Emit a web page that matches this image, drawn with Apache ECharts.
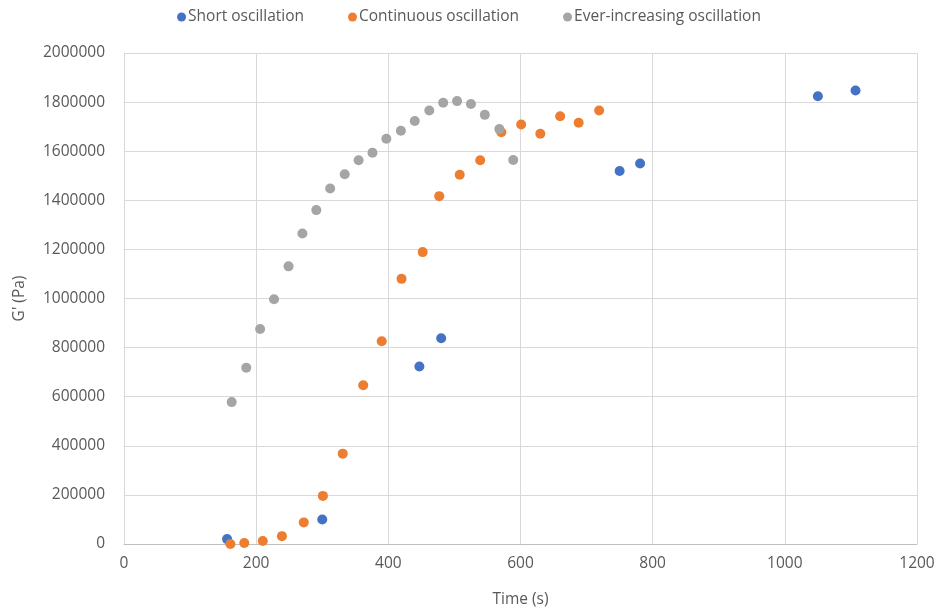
<!DOCTYPE html>
<html>
<head>
<meta charset="utf-8">
<script src="https://cdn.jsdelivr.net/npm/echarts@6/dist/echarts.min.js"></script>
<style>
  html, body { margin: 0; padding: 0; background: #fff; }
  #chart { width: 938px; height: 613px; }
</style>
</head>
<body>
<div id="chart"></div>
<script>
// Storage modulus G' over time for three oscillation modes
const seriesNames = ['Short oscillation', 'Continuous oscillation', 'Ever-increasing oscillation'];

const shortTime = [156, 300, 447, 480, 750, 781, 1050, 1107];
const shortG = [20000, 100000, 723000, 838000, 1519000, 1550000, 1824000, 1847000];

const contTime = [161, 182, 210, 239, 272, 301, 331, 362, 390, 420, 452, 477, 508, 539, 571, 601, 630, 660, 688, 719];
const contG = [0, 4000, 12000, 32000, 88000, 196000, 368000, 647000, 826000, 1080000, 1189000, 1417000, 1504000, 1563000, 1677000, 1709000, 1671000, 1742000, 1716000, 1766000];

const everTime = [163, 185, 206, 227, 249, 270, 291, 312, 334, 355, 376, 397, 419, 440, 462, 483, 504, 525, 546, 568, 589];
const everG = [578000, 718000, 876000, 997000, 1131000, 1265000, 1360000, 1448000, 1506000, 1563000, 1594000, 1651000, 1683000, 1723000, 1766000, 1797000, 1804000, 1792000, 1748000, 1690000, 1564000];

const colors = ['#4472C4', '#ED7D31', '#A5A5A5'];
const font = '"Open Sans", sans-serif';
const textColor = '#595959';

function pairs(xs, ys) {
  return xs.map((x, i) => [x, ys[i]]);
}

// plain integers, no thousands separators
const plain = v => String(v);

const chart = echarts.init(document.getElementById('chart'), null, { renderer: 'canvas' });

const marker = { opacity: 1 };

chart.setOption({
  animation: false,
  backgroundColor: '#ffffff',
  color: colors,
  textStyle: { fontFamily: font },
  legend: {
    top: 4,
    left: 'center',
    itemWidth: 9,
    itemHeight: 9,
    itemGap: 44,
    icon: 'circle',
    textStyle: { color: textColor, fontSize: 15.5, fontFamily: font, padding: [0, 0, 0, -3] },
    data: seriesNames
  },
  grid: { left: 124, right: 21, top: 53, bottom: 68, containLabel: false },
  xAxis: {
    type: 'value',
    min: 0,
    max: 1200,
    interval: 200,
    name: 'Time (s)',
    nameLocation: 'middle',
    nameGap: 48,
    nameTextStyle: { color: textColor, fontSize: 15.5, fontFamily: font },
    axisLine: { show: true, lineStyle: { color: '#BFBFBF', width: 1 } },
    axisTick: { show: false },
    axisLabel: { color: textColor, fontSize: 15.5, margin: 12, fontFamily: font, formatter: plain },
    splitLine: { show: true, lineStyle: { color: '#D9D9D9', width: 1 } }
  },
  yAxis: {
    type: 'value',
    min: 0,
    max: 2000000,
    interval: 200000,
    name: "G' (Pa)",
    nameLocation: 'middle',
    nameGap: 96,
    nameRotate: 90,
    nameTextStyle: { color: textColor, fontSize: 15.5, fontFamily: font },
    axisLine: { show: false },
    axisTick: { show: false },
    axisLabel: { color: textColor, fontSize: 15.5, margin: 19, fontFamily: font, formatter: plain },
    splitLine: { show: true, lineStyle: { color: '#D9D9D9', width: 1 } }
  },
  series: [
    { name: seriesNames[0], type: 'scatter', symbolSize: 10, itemStyle: marker, data: pairs(shortTime, shortG), z: 3 },
    { name: seriesNames[1], type: 'scatter', symbolSize: 10, itemStyle: marker, data: pairs(contTime, contG), z: 4 },
    { name: seriesNames[2], type: 'scatter', symbolSize: 10, itemStyle: marker, data: pairs(everTime, everG), z: 5 }
  ]
});
</script>
</body>
</html>
